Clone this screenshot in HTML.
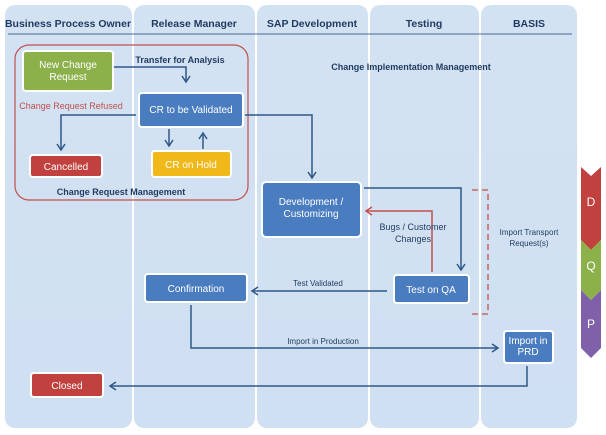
<!DOCTYPE html>
<html><head><meta charset="utf-8"><style>
html,body{margin:0;padding:0;background:#fff;}
svg{display:block;font-family:"Liberation Sans",sans-serif;}
</style></head><body>
<svg width="606" height="435" viewBox="0 0 606 435" xmlns="http://www.w3.org/2000/svg">
<defs>
<linearGradient id="lane" x1="0" y1="0" x2="0" y2="1"><stop offset="0" stop-color="#d3e2f2"/><stop offset="1" stop-color="#cfe0f2"/></linearGradient>
<marker id="ab" markerWidth="10" markerHeight="10" refX="7" refY="5" orient="auto" markerUnits="userSpaceOnUse"><path d="M1,1 L7,5 L1,9" fill="none" stroke="#2f5888" stroke-width="1.5"/></marker>
<marker id="ar" markerWidth="10" markerHeight="10" refX="7" refY="5" orient="auto" markerUnits="userSpaceOnUse"><path d="M1,1 L7,5 L1,9" fill="none" stroke="#c0504d" stroke-width="1.5"/></marker>
</defs>
<g fill="url(#lane)">
<rect x="5" y="5" width="127" height="423" rx="10"/>
<rect x="134" y="5" width="121" height="423" rx="10"/>
<rect x="257" y="5" width="111" height="423" rx="10"/>
<rect x="370" y="5" width="109" height="423" rx="10"/>
<rect x="481" y="5" width="96" height="423" rx="10"/>
</g>
<line x1="8" y1="34" x2="572" y2="34" stroke="#4a6a94" stroke-width="1"/>
<g font-size="10.5" font-weight="bold" fill="#1f3a5f" text-anchor="middle">
<text x="68" y="27">Business Process Owner</text>
<text x="194" y="27">Release Manager</text>
<text x="312" y="27">SAP Development</text>
<text x="424" y="27">Testing</text>
<text x="529" y="27">BASIS</text>
</g>
<rect x="15" y="45" width="233" height="155" rx="14" fill="none" stroke="#c0504d" stroke-width="1.2"/>
<g stroke="#fff" stroke-width="2">
<rect x="23" y="51" width="90" height="40" rx="3" fill="#8cb04a"/>
<rect x="139" y="93" width="104" height="34" rx="3" fill="#4a7cc0"/>
<rect x="30" y="155" width="72" height="22" rx="3" fill="#c0413d"/>
<rect x="152" y="151" width="79" height="26" rx="3" fill="#f0b818"/>
<rect x="262" y="182" width="99" height="55" rx="4" fill="#4a7cc0"/>
<rect x="145" y="274" width="102" height="28" rx="3" fill="#4a7cc0"/>
<rect x="394" y="275" width="75" height="28" rx="3" fill="#4a7cc0"/>
<rect x="504" y="331" width="49" height="32" rx="3" fill="#4a7cc0"/>
<rect x="31" y="373" width="72" height="24" rx="3" fill="#c0413d"/>
</g>
<g fill="#fff" text-anchor="middle" font-size="10">
<text x="68" y="68">New Change</text><text x="68" y="80">Request</text>
<text x="191" y="113">CR to be Validated</text>
<text x="66" y="170">Cancelled</text>
<text x="191" y="168">CR on Hold</text>
<text x="311" y="205">Development  /</text><text x="311" y="217">Customizing</text>
<text x="196" y="292">Confirmation</text>
<text x="431" y="293">Test on QA</text>
<text x="528" y="344">Import in</text><text x="528" y="355">PRD</text>
<text x="67" y="389">Closed</text>
</g>
<g fill="none" stroke="#2f5888" stroke-width="1.5">
<path d="M114,67 H186 V82" marker-end="url(#ab)"/>
<path d="M136,115 H61 V150" marker-end="url(#ab)"/>
<path d="M169,129 V146" marker-end="url(#ab)"/>
<path d="M203,149 V133" marker-end="url(#ab)"/>
<path d="M245,115 H312 V178" marker-end="url(#ab)"/>
<path d="M364,188 H461 V270" marker-end="url(#ab)"/>
<path d="M387,291 H252" marker-end="url(#ab)"/>
<path d="M191,305 V348 H498" marker-end="url(#ab)"/>
<path d="M527,366 V386 H110" marker-end="url(#ab)"/>
</g>
<path d="M432,272 V211 H366" fill="none" stroke="#c0504d" stroke-width="1.5" marker-end="url(#ar)"/>
<path d="M472,190 H488 V314 H472" fill="none" stroke="#c0504d" stroke-width="1.3" stroke-dasharray="6,4"/>
<g font-size="8.5" fill="#1f3a5f" text-anchor="middle">
<text x="180" y="63" font-weight="bold" font-size="9">Transfer for Analysis</text>
<text x="411" y="70" font-weight="bold" font-size="9">Change Implementation Management</text>
<text x="121" y="195" font-weight="bold" font-size="9">Change Request Management</text>
<text x="71" y="109" fill="#c0504d" font-size="9">Change Request Refused</text>
<text x="413" y="230" font-size="9">Bugs / Customer</text><text x="413" y="242" font-size="9">Changes</text>
<text x="529" y="235" font-size="8">Import Transport</text><text x="529" y="246" font-size="8">Request(s)</text>
<text x="318" y="286" font-size="8">Test Validated</text>
<text x="323" y="344" font-size="8">Import in Production</text>
</g>
<path d="M581,167 L591,176 L601,167 V240 L591,250 L581,240 Z" fill="#c0413d"/>
<path d="M581,240 L591,250 L601,240 V290 L591,300 L581,290 Z" fill="#8cb04a"/>
<path d="M581,290 L591,300 L601,290 V348 L591,358 L581,348 Z" fill="#8060a8"/>
<g fill="#fff" font-size="12" text-anchor="middle">
<text x="591" y="206">D</text><text x="591" y="270">Q</text><text x="591" y="328">P</text>
</g>
</svg>
</body></html>
